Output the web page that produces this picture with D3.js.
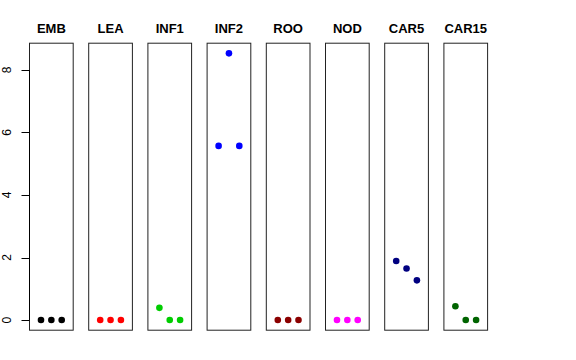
<!DOCTYPE html>
<html><head><meta charset="utf-8">
<script src="https://cdn.jsdelivr.net/npm/d3@7"></script>
<style>body{margin:0;background:#fff}svg{display:block}</style>
</head><body>
<script>
const categories = ["EMB","LEA","INF1","INF2","ROO","NOD","CAR5","CAR15"];
const colors = ["#000000","#FF0000","#00CD00","#0000FF","#8B0000","#FF00FF","#000080","#006400"];
const valuesEMB = [0,0,0];
const valuesLEA = [0,0,0];
const valuesINF1 = [0.39,0,0];
const valuesINF2 = [5.57,8.53,5.57];
const valuesROO = [0,0,0];
const valuesNOD = [0,0,0];
const valuesCAR5 = [1.89,1.65,1.27];
const valuesCAR15 = [0.44,0,0];
const seriesValues = [valuesEMB,valuesLEA,valuesINF1,valuesINF2,valuesROO,valuesNOD,valuesCAR5,valuesCAR15];
const yTicks = [0,2,4,6,8];

(function(){
const W=576,H=360;
const svg=d3.select("body").append("svg").attr("width",W).attr("height",H);
const pTop=42.7,pBottom=330.7;
const ymax=8.53, pad=ymax*0.04;
const y=d3.scaleLinear().domain([-pad,ymax+pad]).range([pBottom,pTop]);
const band=d3.scaleBand().domain(categories).range([29,488.1]).paddingInner(0.245).paddingOuter(0);
const x=d3.scaleLinear().domain([-0.16,4.16]).range([0,band.bandwidth()]);

categories.forEach((c,i)=>{
  const g=svg.append("g").attr("transform",`translate(${band(c)},0)`);
  g.append("rect").attr("x",0.5).attr("y",pTop+0.5).attr("width",band.bandwidth()-1).attr("height",pBottom-pTop-1)
    .attr("fill","none").attr("stroke","#222").attr("stroke-width",1);
  g.append("text").attr("x",band.bandwidth()/2).attr("y",33).attr("text-anchor","middle")
    .attr("font-family","Liberation Sans, Arial, sans-serif").attr("font-weight","bold").attr("font-size",13).text(c);
  g.selectAll("circle").data(seriesValues[i]).join("circle")
    .attr("cx",(d,j)=>x(j+1)).attr("cy",d=>y(d)).attr("r",3.3).attr("fill",colors[i]);
});

const ax=svg.append("g").attr("transform",`translate(${band(categories[0])+0.5},0)`);
ax.append("line").attr("x1",0).attr("x2",0).attr("y1",y(0)).attr("y2",y(8)).attr("stroke","#000");
ax.selectAll("line.t").data(yTicks).join("line").attr("class","t")
  .attr("x1",-8).attr("x2",0).attr("y1",d=>Math.round(y(d))+0.5).attr("y2",d=>Math.round(y(d))+0.5).attr("stroke","#000");
ax.selectAll("text").data(yTicks).join("text")
  .attr("transform",d=>`translate(-19,${y(d)}) rotate(-90)`)
  .attr("text-anchor","middle").attr("font-family","Liberation Sans, Arial, sans-serif").attr("font-size",12).text(d=>d);
})();
</script>
</body></html>
